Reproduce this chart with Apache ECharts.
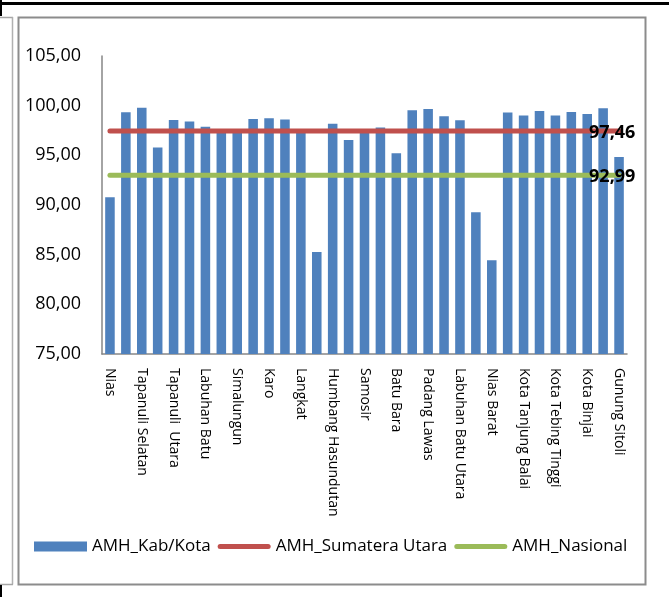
<!DOCTYPE html>
<html>
<head>
<meta charset="utf-8">
<script src="https://cdn.jsdelivr.net/npm/echarts@6/dist/echarts.min.js"></script>
<style>
html,body{margin:0;padding:0;background:#fff;}
#chart{width:669px;height:597px;}
</style>
</head>
<body>
<div id="chart"></div>
<script>
var categories = [
  "Nias", "Mandailing Natal", "Tapanuli Selatan", "Tapanuli Tengah", "Tapanuli  Utara",
  "Toba Samosir", "Labuhan Batu", "Asahan", "Simalungun", "Dairi", "Karo",
  "Deli Serdang", "Langkat", "Nias Selatan", "Humbang Hasundutan", "Pakpak Bharat",
  "Samosir", "Serdang Bedagai", "Batu Bara", "Padang Lawas Utara", "Padang Lawas",
  "Labuhan Batu Selatan", "Labuhan Batu Utara", "Nias Utara", "Nias Barat",
  "Kota Sibolga", "Kota Tanjung Balai", "Kota Pematang Siantar", "Kota Tebing Tinggi",
  "Kota Medan", "Kota Binjai", "Kota Padangsidimpuan", "Gunung Sitoli"
];
var amhKabKota = [
  90.78, 99.34, 99.80, 95.80, 98.56, 98.40, 97.89, 97.40, 97.40, 98.66, 98.73,
  98.60, 97.40, 85.27, 98.19, 96.55, 97.40, 97.79, 95.20, 99.54, 99.67,
  98.93, 98.52, 89.27, 84.43, 99.30, 99.00, 99.47, 99.00, 99.37, 99.17,
  99.74, 94.84
];
var amhSumateraUtara = 97.46;
var amhNasional = 92.99;
var yMin = 75, yMax = 105, yInterval = 5;

function fmt(v){ return v.toFixed(2).replace('.', ','); }

var lineIcon = 'path://M2.5,0 L50.5,0 A2.5,2.5 0 0 1 50.5,5 L2.5,5 A2.5,2.5 0 0 1 2.5,0 Z';

function refLine(name, value, color){
  var first = categories[0], last = categories[categories.length - 1];
  return {
    name: name,
    type: 'line',
    z: 3,
    symbol: 'none',
    showSymbol: false,
    lineStyle: {color: color, width: 5, cap: 'round'},
    itemStyle: {color: color},
    endLabel: {
      show: true,
      offset: [-38, 2],
      formatter: function(){ return fmt(value); },
      color: '#000', fontWeight: 'bold', fontSize: 18, fontFamily: 'Open Sans'
    },
    data: [[first, value], [last, value]]
  };
}

var chart = echarts.init(document.getElementById('chart'), null, {renderer: 'canvas'});
chart.setOption({
  animation: false,
  backgroundColor: '#fff',
  textStyle: {fontFamily: 'Open Sans'},
  graphic: [
    {type: 'line', shape: {x1: 0, y1: 3.5, x2: 669, y2: 3.5}, style: {stroke: '#000', lineWidth: 3}},
    {type: 'line', shape: {x1: 1, y1: 0, x2: 1, y2: 16}, style: {stroke: '#000', lineWidth: 2}},
    {type: 'line', shape: {x1: 0, y1: 17.5, x2: 13, y2: 17.5}, style: {stroke: '#a6a6a6', lineWidth: 1.5}},
    {type: 'line', shape: {x1: 12.5, y1: 17, x2: 12.5, y2: 584.5}, style: {stroke: '#b0b0b0', lineWidth: 1.5}},
    {type: 'line', shape: {x1: 0, y1: 584.5, x2: 13, y2: 584.5}, style: {stroke: '#a6a6a6', lineWidth: 1.5}},
    {type: 'line', shape: {x1: 1, y1: 585, x2: 1, y2: 597}, style: {stroke: '#000', lineWidth: 2}},
    {type: 'rect', shape: {x: 18.5, y: 17.5, width: 627, height: 567}, style: {fill: 'none', stroke: '#8c8c8c', lineWidth: 2}}
  ],
  legend: {
    left: 34,
    top: 538,
    padding: 0,
    itemWidth: 53,
    itemHeight: 10,
    itemGap: 7,
    symbolKeepAspect: true,
    textStyle: {fontSize: 17, color: '#000', fontFamily: 'Open Sans'},
    data: [
      {name: 'AMH_Kab/Kota', icon: 'rect'},
      {name: 'AMH_Sumatera Utara', icon: lineIcon},
      {name: 'AMH_Nasional', icon: lineIcon}
    ]
  },
  grid: {left: 102, right: 42, top: 56, bottom: 243, containLabel: false},
  xAxis: {
    type: 'category',
    data: categories,
    boundaryGap: true,
    axisLine: {lineStyle: {color: '#868686', width: 1.5}},
    axisTick: {show: false},
    axisLabel: {
      interval: 1, rotate: -90, color: '#000', fontSize: 14, margin: 14,
      fontFamily: 'Open Sans'
    }
  },
  yAxis: {
    type: 'value',
    min: yMin, max: yMax, interval: yInterval,
    axisLine: {show: true, lineStyle: {color: '#868686', width: 1.5}},
    axisTick: {show: false},
    splitLine: {show: false},
    axisLabel: {
      color: '#000', fontSize: 18, margin: 21, fontFamily: 'Open Sans',
      formatter: function(v){ return fmt(v); }
    }
  },
  series: [
    {
      name: 'AMH_Kab/Kota',
      type: 'bar',
      z: 2,
      barCategoryGap: '40%',
      itemStyle: {color: '#4F81BD'},
      data: amhKabKota
    },
    refLine('AMH_Sumatera Utara', amhSumateraUtara, '#C0504D'),
    refLine('AMH_Nasional', amhNasional, '#9BBB59')
  ]
});
</script>
</body>
</html>
